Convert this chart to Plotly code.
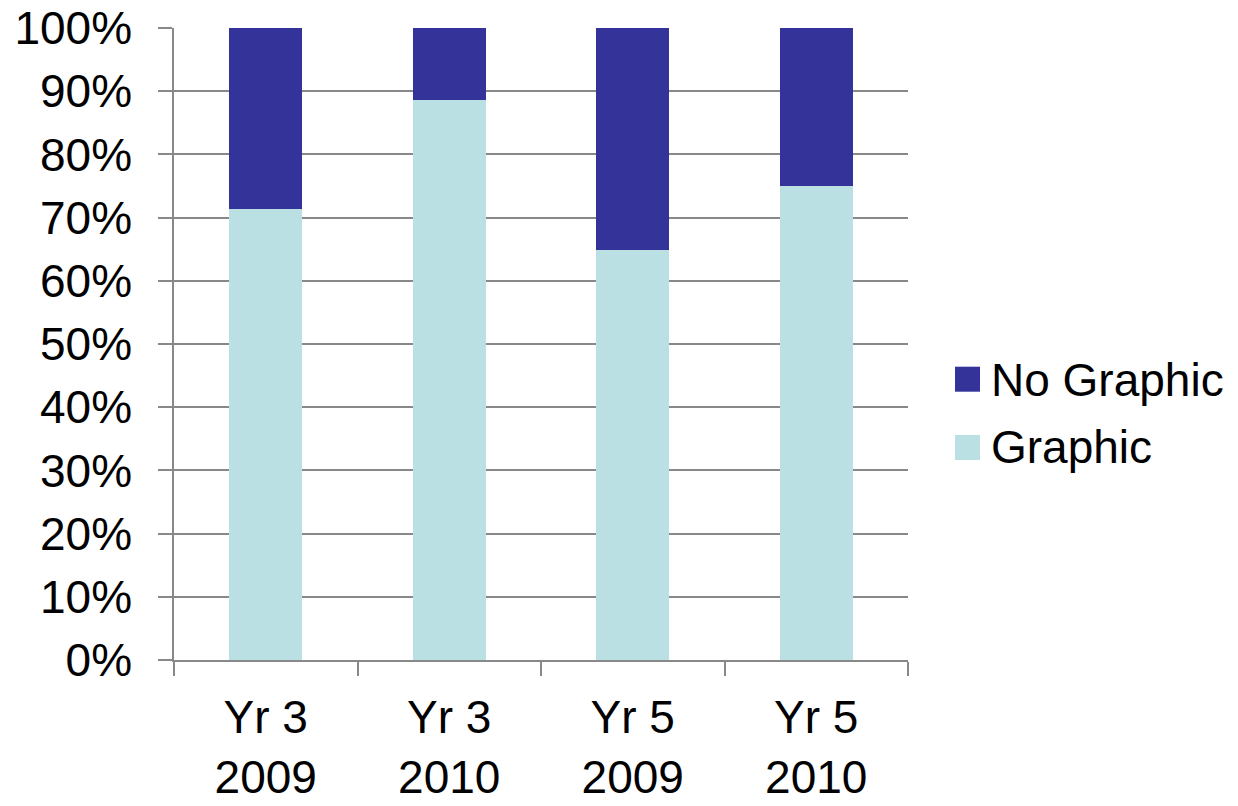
import plotly.graph_objects as go

categories = ["Yr 3<br>2009", "Yr 3<br>2010", "Yr 5<br>2009", "Yr 5<br>2010"]
graphic = [71.4, 88.6, 64.9, 75.0]
no_graphic = [28.6, 11.4, 35.1, 25.0]
y_ticks = [0, 10, 20, 30, 40, 50, 60, 70, 80, 90, 100]
y_tick_labels = [f"{v}%" for v in y_ticks]
series_names = ["No Graphic", "Graphic"]
series_colors = ["#333399", "#BBE0E3"]

GRAY = "#888888"
FONT = "Liberation Sans, Arial, sans-serif"

W, H = 1238, 806
# plot area on screen: x 174..908, y 28..660
L, T = 174, 28
R = W - 908
B = H - 660
PW, PH = W - L - R, H - T - B

fig = go.Figure()
fig.add_trace(go.Bar(x=categories, y=graphic, name="Graphic",
                     marker=dict(color=series_colors[1], line=dict(width=0))))
fig.add_trace(go.Bar(x=categories, y=no_graphic, name="No Graphic",
                     marker=dict(color=series_colors[0], line=dict(width=0))))

fig.update_layout(
    barmode="stack",
    bargap=0.6,
    width=W, height=H,
    margin=dict(l=L, r=R, t=T, b=B, autoexpand=False),
    paper_bgcolor="white", plot_bgcolor="white",
    font=dict(family=FONT, size=46, color="black"),
    showlegend=False,
)

# manual legend (large square swatches); coordinates given in screen pixels
def px_x(p):
    return (p - L) / PW

def px_y(p):
    return (H - B - p) / PH

legend_rows = [(366.7, 380), (435, 447)]
for (top, center), name, color in zip(legend_rows, series_names, series_colors):
    fig.add_shape(type="rect", xref="paper", yref="paper",
                  x0=px_x(955), x1=px_x(980), y0=px_y(top + 25), y1=px_y(top),
                  fillcolor=color, line=dict(width=0))
    fig.add_annotation(text=name, xref="paper", yref="paper",
                       x=px_x(989), y=px_y(center), xanchor="left", yanchor="middle",
                       showarrow=False, font=dict(size=46, family=FONT, color="black"))

fig.update_yaxes(range=[0, 100], tickvals=y_ticks, ticktext=y_tick_labels,
                 showgrid=True, gridcolor=GRAY, gridwidth=1.5,
                 showline=True, linecolor=GRAY, linewidth=1.5,
                 ticks="outside", ticklen=14, tickcolor=GRAY, tickwidth=1.5,
                 zeroline=False, tickfont=dict(size=46), automargin=False,
                 ticklabelstandoff=17, ticklabeloverflow="allow")
fig.update_xaxes(showline=True, linecolor=GRAY, linewidth=1.5,
                 ticks="outside", ticklen=14, tickcolor=GRAY, tickwidth=1.5,
                 tickson="boundaries", tickfont=dict(size=46), automargin=False,
                 ticklabelstandoff=16, ticklabeloverflow="allow")

fig.write_html("out.html",
               config={"displayModeBar": False},
               post_script="document.body.style.margin='0';document.body.style.overflow='hidden';")
